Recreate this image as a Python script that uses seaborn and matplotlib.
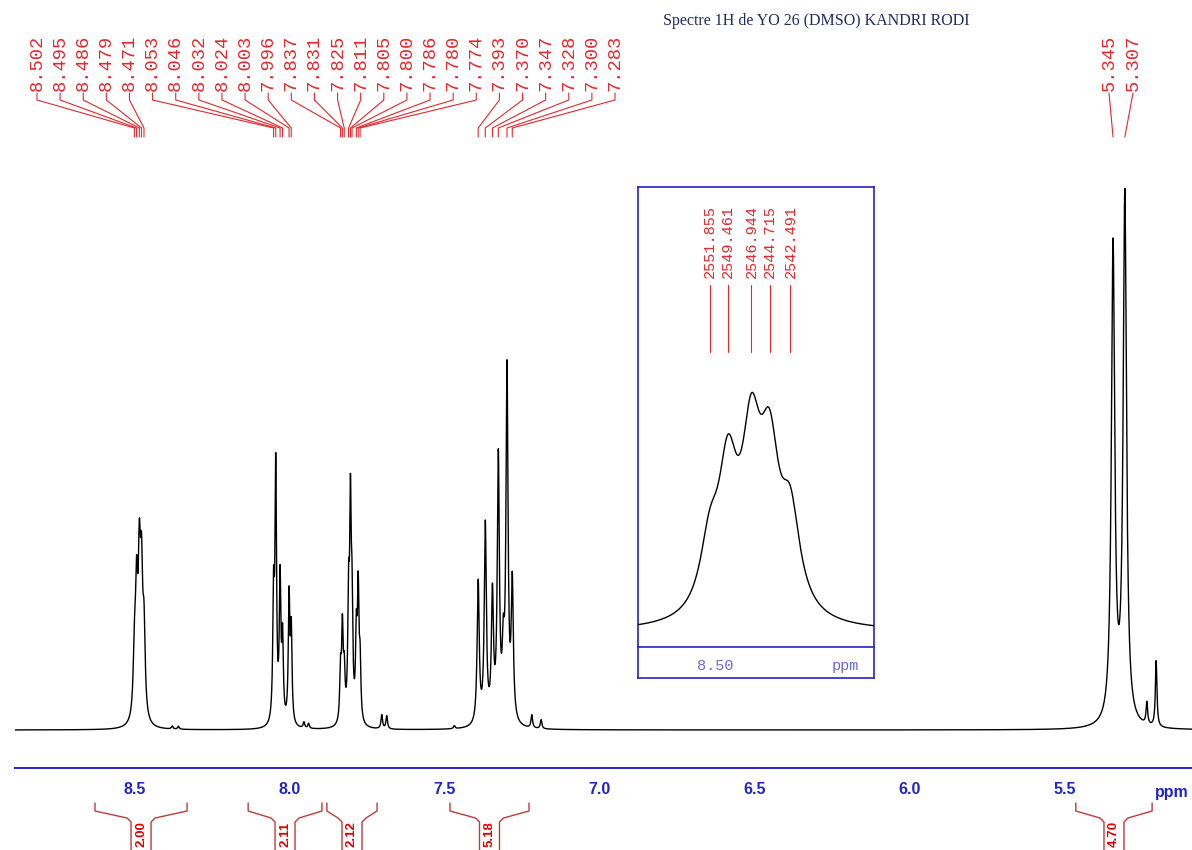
import numpy as np
import pandas as pd
import matplotlib
matplotlib.use("Agg")
import matplotlib.pyplot as plt
import seaborn as sns
from matplotlib.transforms import blended_transform_factory
from matplotlib.ticker import FixedLocator, MultipleLocator

W, H = 1192, 850

TITLE = "Spectre 1H de YO 26 (DMSO) KANDRI RODI"

# peak picking labels printed on top of the spectrum (ppm)
PEAK_LABELS_AROM = ["8.502", "8.495", "8.486", "8.479", "8.471",
                    "8.053", "8.046", "8.032", "8.024", "8.003", "7.996",
                    "7.837", "7.831", "7.825", "7.811", "7.805", "7.800",
                    "7.786", "7.780", "7.774",
                    "7.393", "7.370", "7.347", "7.328", "7.300", "7.283"]
PEAK_LABELS_CH2 = ["5.345", "5.307"]
# same five lines of the 8.48 multiplet, in Hz (inset)
INSET_LABELS_HZ = ["2551.855", "2549.461", "2546.944", "2544.715", "2542.491"]

# lines of the trace: position (ppm), height above baseline, half width (ppm)
LINE_PPM = [8.502, 8.495, 8.486, 8.479, 8.471,
            8.053, 8.046, 8.032, 8.024, 8.003, 7.996,
            7.837, 7.831, 7.825, 7.811, 7.805, 7.800, 7.786, 7.780, 7.774,
            7.393, 7.370, 7.347, 7.328, 7.312, 7.300, 7.283,
            5.345, 5.307,
            8.38, 8.36, 7.955, 7.94, 7.704, 7.688, 7.47, 7.22, 7.19, 5.236, 5.206]
LINE_HEIGHT = [58, 118, 140, 126, 82,
               120, 250, 140, 80, 125, 90,
               50, 90, 45, 115, 200, 100, 80, 125, 55,
               142, 198, 125, 262, 60, 350, 136,
               477, 528,
               3, 3, 6, 5, 14, 13, 3, 13, 9, 22, 66]
LINE_HWHM = [0.0045] * 5 + [0.003] * 6 + [0.003] * 9 + [0.004] * 7 + [0.0065] * 2 + [0.003] * 11

# integrals
INT_FROM = [8.629, 8.135, 7.881, 7.484, 5.465]
INT_TO = [8.332, 7.897, 7.719, 7.229, 5.219]
INT_VALUE = ["2.00", "2.11", "2.12", "5.18", "4.70"]

MAJOR_TICKS = [8.5, 8.0, 7.5, 7.0, 6.5, 6.0, 5.5]

# ---------------- layout helpers ----------------
PX_PER_PPM = 310.0
PX_AT_85 = 135.0


def ppm_at(px):
    return 8.5 - (px - PX_AT_85) / PX_PER_PPM


def fy(y_px):
    return 1 - y_px / H


RED = "#e2282c"
RED_DARK = "#c0393b"
BLUE = "#2323c8"

sns.set_style("white")
plt.rcParams["font.family"] = ["Liberation Sans", "DejaVu Sans"]

# spectrum trace
ppm = np.arange(ppm_at(15), ppm_at(1192), -0.0001)
inten = np.zeros_like(ppm)
for p, h, w in zip(LINE_PPM, LINE_HEIGHT, LINE_HWHM):
    inten += h / (1 + ((ppm - p) / w) ** 2)
df = pd.DataFrame({"ppm": ppm, "I": inten})

fig = plt.figure(figsize=(W / 100, H / 100), dpi=100)

# ---------------- main spectrum ----------------
ax = fig.add_axes([15 / W, fy(768), 1 - 15 / W, 768 / H])
sns.lineplot(data=df, x="ppm", y="I", ax=ax, color="black", linewidth=1.0,
             estimator=None, sort=False)
ax.set_xlim(ppm_at(15), ppm_at(1192))
ax.set_ylim(-38, 730)
ax.set_xlabel("")
ax.set_ylabel("")
ax.set_yticks([])
for s in ["left", "top", "right"]:
    ax.spines[s].set_visible(False)
ax.spines["bottom"].set_color(BLUE)
ax.spines["bottom"].set_linewidth(1.4)
ax.xaxis.set_major_locator(FixedLocator(MAJOR_TICKS))
ax.xaxis.set_minor_locator(MultipleLocator(0.1))
ax.set_xticklabels([f"{t:.1f}" for t in MAJOR_TICKS])
ax.tick_params(axis="x", which="major", direction="out", length=6, width=1.3,
               color=BLUE, labelcolor=BLUE, labelsize=11.5, pad=4)
ax.tick_params(axis="x", which="minor", direction="out", length=3, width=1.1, color=BLUE)
for lab in ax.get_xticklabels():
    lab.set_fontweight("bold")

tr = blended_transform_factory(ax.transData, fig.transFigure)
ax.text(ppm_at(1189), fy(792), "ppm", transform=tr, color=BLUE, fontsize=11.5,
        fontweight="bold", ha="right", va="center")

# peak labels, aromatic region
lab_x = np.linspace(ppm_at(37), ppm_at(615), len(PEAK_LABELS_AROM))
for lx, s in zip(lab_x, PEAK_LABELS_AROM):
    pk = float(s)
    ax.plot([lx, lx, pk, pk], [fy(93), fy(100), fy(128), fy(137)], transform=tr,
            color=RED, lw=0.8, clip_on=False)
    ax.text(lx, fy(91), s, transform=tr, rotation=90, ha="center", va="bottom",
            color=RED, fontsize=13.5, family="Liberation Mono")

# peak labels, CH2 doublet
for lx_px, s in zip([1109, 1133], PEAK_LABELS_CH2):
    lx = ppm_at(lx_px)
    pk = float(s)
    ax.plot([lx, pk], [fy(93), fy(137)], transform=tr, color=RED, lw=0.8, clip_on=False)
    ax.text(lx, fy(91), s, transform=tr, rotation=90, ha="center", va="bottom",
            color=RED, fontsize=13.5, family="Liberation Mono")

# integrals
for a, b, v in zip(INT_FROM, INT_TO, INT_VALUE):
    c = (a + b) / 2
    d = 10 / PX_PER_PPM
    k = 14 / PX_PER_PPM
    ax.plot([a, a, c + k, c + d, c + d], [fy(803), fy(811), fy(818), fy(822), fy(860)],
            transform=tr, color=RED_DARK, lw=1.0, clip_on=False)
    ax.plot([b, b, c - k, c - d, c - d], [fy(803), fy(811), fy(818), fy(822), fy(860)],
            transform=tr, color=RED_DARK, lw=1.0, clip_on=False)
    ax.text(c, fy(834), v, transform=tr, rotation=90, ha="center", va="center",
            color="#e00000", fontsize=9.5, fontweight="bold")

fig.text(663 / W, fy(21), TITLE, family="Liberation Serif", fontsize=11.5,
         color="#1f2b66", ha="left", va="center")

# ---------------- inset (8.48 multiplet) ----------------
box = fig.add_axes([638 / W, fy(678), 236 / W, 491 / H])
box.set_xticks([])
box.set_yticks([])
box.set_facecolor("white")
for s in box.spines.values():
    s.set_color(BLUE)
    s.set_linewidth(1.2)

ins = fig.add_axes([638 / W, fy(647), 236 / W, 460 / H])
ins.patch.set_alpha(0)
x_lo, x_hi = 8.50 + 77 / 2600, 8.50 - 159 / 2600
sub = df[(df["ppm"] <= x_lo + 0.001) & (df["ppm"] >= x_hi - 0.001)]
sns.lineplot(data=sub, x="ppm", y="I", ax=ins, color="black", linewidth=1.0,
             estimator=None, sort=False)
ins.set_xlim(x_lo, x_hi)
ins.set_ylim(-13.3, 394)
ins.set_xlabel("")
ins.set_ylabel("")
ins.set_yticks([])
for s in ["left", "top", "right"]:
    ins.spines[s].set_visible(False)
ins.spines["bottom"].set_color(BLUE)
ins.spines["bottom"].set_linewidth(1.2)
ins.xaxis.set_major_locator(FixedLocator([8.50, 8.45]))
ins.xaxis.set_minor_locator(MultipleLocator(0.01))
ins.set_xticklabels(["8.50", ""])
ins.tick_params(axis="x", which="major", direction="out", length=6, width=1.2,
                color=BLUE, labelcolor="#6a6ad8", labelsize=11, pad=3)
ins.tick_params(axis="x", which="minor", direction="out", length=3, width=1.1, color=BLUE)
for lab in ins.get_xticklabels():
    lab.set_family("Liberation Mono")
tri = blended_transform_factory(ins.transData, fig.transFigure)
ins.text(8.45, fy(666), "ppm", transform=tri, color="#6a6ad8", fontsize=11,
         family="Liberation Mono", ha="center", va="center")
for s, hz in zip(PEAK_LABELS_AROM[:5], INSET_LABELS_HZ):
    pk = float(s)
    ins.plot([pk, pk], [fy(285), fy(352)], transform=tri, color=RED, lw=0.8)
    ins.text(pk, fy(278), hz, transform=tri, rotation=90, ha="center", va="bottom",
             color=RED, fontsize=11, family="Liberation Mono")

fig.savefig("out.png", dpi=100)
